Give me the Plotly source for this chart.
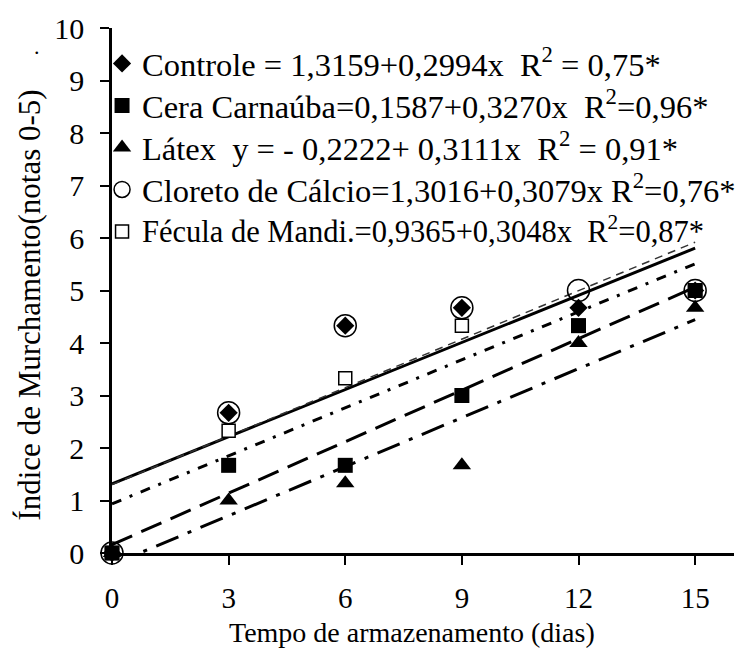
import plotly.graph_objects as go

# ---- data ----
dias = [0, 3, 6, 9, 12, 15]
controle = [0, 2.67, 4.33, 4.67, 4.67, 5.0]
cera = [0, 1.67, 1.67, 3.0, 4.33, 5.0]
latex = [0, 1.0, 1.33, 1.67, 4.0, 4.67]
cloreto = [0, 2.67, 4.33, 4.67, 5.0, 5.0]
fecula = [0, 2.33, 3.33, 4.33, 4.33, 5.0]

intercepts = [1.3159, 0.1587, -0.2222, 1.3016, 0.9365]
slopes = [0.2994, 0.3270, 0.3111, 0.3079, 0.3048]

names = ["Controle", "Cera Carnaúba", "Látex", "Cloreto de Cálcio", "Fécula de Mandi."]
legend_texts = [
    "Controle = 1,3159+0,2994x\u00a0\u00a0R<sup>2</sup> = 0,75*",
    "Cera Carnaúba=0,1587+0,3270x\u00a0\u00a0R<sup>2</sup>=0,96*",
    "Látex\u00a0\u00a0y = - 0,2222+ 0,3111x\u00a0\u00a0R<sup>2</sup> = 0,91*",
    "Cloreto de Cálcio=1,3016+0,3079x R<sup>2</sup>=0,76*",
    "Fécula de Mandi.=0,9365+0,3048x\u00a0\u00a0R<sup>2</sup>=0,87*",
]
legend_sizes = [32.5, 32.5, 32.5, 32.5, 30.5]
x_ticks = [0, 3, 6, 9, 12, 15]
y_ticks = list(range(0, 11))

FONT = "Liberation Serif"

series = [controle, cera, latex, cloreto, fecula]
line_styles = [
    dict(color="black", width=3, dash="solid"),
    dict(color="black", width=3, dash="22px,10px"),
    dict(color="black", width=3, dash="24px,10px,4px,10px"),
    dict(color="#333333", width=1.5, dash="8px,6px"),
    dict(color="black", width=3, dash="10px,9px,3px,9px"),
]
markers = [
    dict(symbol="diamond", size=14, color="black"),
    dict(symbol="square", size=15, color="black"),
    dict(symbol="triangle-up", size=16, color="black"),
    dict(symbol="circle-open", size=22, color="black", line=dict(width=1.5, color="black")),
    dict(symbol="square", size=13, color="white", line=dict(width=1.5, color="black")),
]

fig = go.Figure()

# regression lines
x0, x1 = dias[0], dias[-1]
for i in range(5):
    fig.add_trace(go.Scatter(
        x=[x0, x1],
        y=[intercepts[i] + slopes[i] * x0, intercepts[i] + slopes[i] * x1],
        mode="lines", line=line_styles[i], showlegend=False, hoverinfo="skip",
    ))

# markers; draw order: fecula, latex, cera, controle, cloreto
draw_order = [4, 2, 1, 0, 3]
for i in draw_order:
    fig.add_trace(go.Scatter(
        x=dias, y=series[i], mode="markers", marker=markers[i],
        name="\u00a0", legendrank=i + 1, legendgroup=f"g{i}",
        cliponaxis=False, hovertext=names[i],
    ))

# legend text rows (annotations next to the legend symbols)
ROW0, ROWSTEP = 60, 42          # pixel centres of legend rows
PLOT_TOP, PLOT_H = 25, 528
annotations = []
for k, txt in enumerate(legend_texts):
    ypix = ROW0 + ROWSTEP * k
    annotations.append(dict(
        text=txt, xref="paper", yref="paper",
        x=(140 - 112) / 622, y=(PLOT_TOP + PLOT_H - ypix) / PLOT_H,
        xanchor="left", yanchor="middle", showarrow=False,
        font=dict(family=FONT, size=legend_sizes[k], color="black"),
    ))

annotations += [
    dict(text="Tempo de armazenamento (dias)", xref="paper", yref="paper",
         x=0.482, y=-0.152, xanchor="center", yanchor="middle",
         showarrow=False, font=dict(family=FONT, size=28)),
    dict(text="Índice de Murchamento(notas 0-5)", xref="paper", yref="paper",
         x=-0.132, y=0.473, xanchor="center", yanchor="middle", textangle=-90,
         showarrow=False, font=dict(family=FONT, size=31)),
    dict(text=".", xref="paper", yref="paper",
         x=-0.12, y=0.965, xanchor="center", yanchor="middle",
         showarrow=False, font=dict(family=FONT, size=22)),
]

fig.update_layout(
    width=745, height=648,
    margin=dict(l=112, r=11, t=25, b=95),
    paper_bgcolor="white", plot_bgcolor="white",
    font=dict(family=FONT, size=29, color="black"),
    showlegend=True,
    legend=dict(
        x=-0.016, y=0.982, xanchor="left", yanchor="top",
        bgcolor="rgba(0,0,0,0)", borderwidth=0,
        font=dict(family=FONT, size=30, color="black"),
        tracegroupgap=0, itemsizing="trace",
    ),
    xaxis=dict(
        range=[0, 16], tickvals=x_ticks, ticktext=[str(v) for v in x_ticks],
        showline=True, linecolor="black", linewidth=2.5,
        ticks="outside", ticklen=9, tickwidth=2, tickcolor="black",
        showgrid=False, zeroline=False, ticklabelstandoff=8,
        tickfont=dict(family=FONT, size=29),
    ),
    yaxis=dict(
        range=[0, 10], tickvals=y_ticks,
        showline=True, linecolor="black", linewidth=2.5,
        ticks="outside", ticklen=9, tickwidth=2, tickcolor="black",
        showgrid=False, zeroline=False, ticklabelstandoff=10,
        tickfont=dict(family=FONT, size=30),
    ),
    annotations=annotations,
)

fig.write_html("out.html")
